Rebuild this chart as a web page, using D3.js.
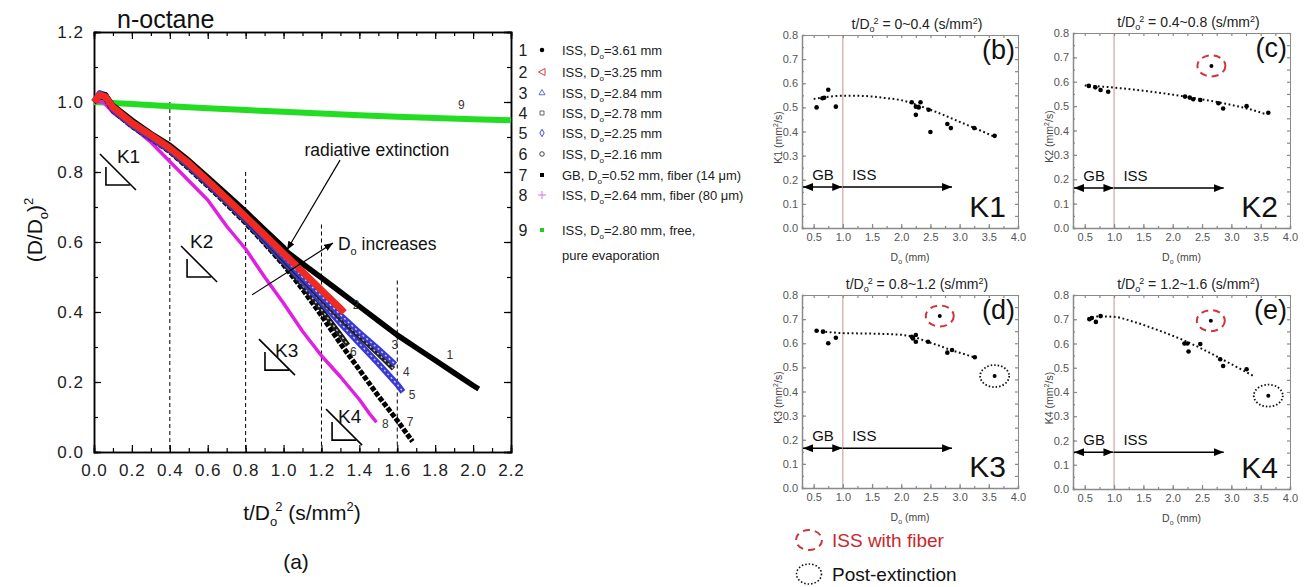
<!DOCTYPE html>
<html>
<head>
<meta charset="utf-8">
<script src="https://cdn.jsdelivr.net/npm/d3@7"></script>
<style>
body { margin: 0; background: #fff; }
svg { font-family: "Liberation Sans", Arial, sans-serif; }
</style>
</head>
<body>
<svg id="fig" width="1307" height="587"></svg>
<script>
// ---------- data: panel (a), (D/Do)^2 against t/Do^2 ----------
var curveNames = ["1", "2", "3", "4", "5", "6", "7", "8", "9"];
var curveFacility = ["ISS", "ISS", "ISS", "ISS", "ISS", "ISS", "GB", "ISS", "ISS"];
var curveDo = ["3.61", "3.25", "2.84", "2.78", "2.25", "2.16", "0.52", "2.64", "2.80"];
var curveExtra = ["", "", "", "", "", "", ", fiber (14 \u03bcm)", ", fiber (80 \u03bcm)", ", free,"];

var iss361 = [[0,1.0],[0.03,1.015],[0.06,1.02],[0.1,0.99],[0.2,0.948],[0.3,0.91],[0.4,0.876],[0.5,0.833],[0.6,0.785],[0.7,0.736],[0.8,0.687],[0.9,0.635],[1.0,0.584],[1.02,0.571],[1.1,0.538],[1.2,0.498],[1.3,0.457],[1.4,0.416],[1.5,0.375],[1.6,0.334],[1.7,0.298],[1.8,0.262],[1.9,0.226],[2.0,0.19],[2.03,0.18]];
var iss325 = [[0,1.0],[0.03,1.02],[0.06,1.015],[0.1,0.985],[0.2,0.94],[0.3,0.905],[0.4,0.868],[0.5,0.825],[0.6,0.775],[0.7,0.724],[0.8,0.672],[0.9,0.62],[1.0,0.567],[1.1,0.515],[1.2,0.462],[1.3,0.41],[1.32,0.398]];
var iss284 = [[0,1.0],[0.03,1.025],[0.06,1.02],[0.1,0.98],[0.2,0.936],[0.3,0.9],[0.4,0.865],[0.5,0.82],[0.6,0.77],[0.7,0.72],[0.8,0.668],[0.9,0.612],[1.0,0.556],[1.1,0.5],[1.2,0.445],[1.3,0.392],[1.4,0.342],[1.5,0.295],[1.59,0.25]];
var iss278 = [[0,1.0],[0.03,1.02],[0.06,1.015],[0.1,0.98],[0.2,0.935],[0.3,0.9],[0.4,0.864],[0.5,0.818],[0.6,0.768],[0.7,0.717],[0.8,0.665],[0.9,0.608],[1.0,0.55],[1.1,0.494],[1.2,0.437],[1.3,0.382],[1.4,0.33],[1.5,0.28],[1.58,0.238]];
var iss225 = [[0,1.0],[0.03,1.025],[0.06,1.02],[0.1,0.978],[0.2,0.933],[0.3,0.898],[0.4,0.862],[0.5,0.816],[0.6,0.766],[0.7,0.715],[0.8,0.662],[0.9,0.604],[1.0,0.546],[1.1,0.488],[1.2,0.428],[1.3,0.368],[1.4,0.31],[1.5,0.253],[1.6,0.193],[1.63,0.172]];
var iss216 = [[0,1.0],[0.03,1.02],[0.06,1.015],[0.1,0.978],[0.2,0.932],[0.3,0.897],[0.4,0.86],[0.5,0.814],[0.6,0.764],[0.7,0.712],[0.8,0.658],[0.9,0.6],[1.0,0.54],[1.1,0.476],[1.2,0.407],[1.3,0.335],[1.34,0.305]];
var gb052 = [[0,1.0],[0.03,1.015],[0.06,1.01],[0.1,0.975],[0.2,0.93],[0.3,0.895],[0.4,0.858],[0.5,0.81],[0.6,0.76],[0.7,0.708],[0.8,0.654],[0.9,0.596],[1.0,0.535],[1.1,0.465],[1.2,0.39],[1.3,0.31],[1.4,0.235],[1.5,0.16],[1.6,0.09],[1.68,0.03]];
var iss264fiber = [[0,1.0],[0.05,1.0],[0.1,0.97],[0.2,0.93],[0.3,0.885],[0.4,0.83],[0.5,0.775],[0.6,0.72],[0.7,0.645],[0.8,0.58],[0.9,0.5],[1.0,0.425],[1.1,0.345],[1.2,0.275],[1.3,0.215],[1.4,0.15],[1.45,0.112],[1.49,0.085]];
var iss280free = [[0,1.0],[0.2,0.994],[0.4,0.988],[0.6,0.982],[0.8,0.977],[1.0,0.972],[1.2,0.967],[1.4,0.962],[1.6,0.958],[1.8,0.954],[2.0,0.951],[2.2,0.948]];

// where the small curve numbers sit
var curveLabelPos = [[1.86,0.265],[1.365,0.41],[1.57,0.295],[1.63,0.218],[1.66,0.152],[1.35,0.275],[1.65,0.075],[1.52,0.07],[1.92,0.98]];

// ---------- data: panels (b)-(e), K against Do ----------
var kDoB = [0.55,0.65,0.68,0.75,0.88,2.18,2.25,2.25,2.33,2.3,2.47,2.5,2.79,2.85,3.25,3.6];
var kValB = [0.50,0.538,0.54,0.573,0.503,0.521,0.503,0.469,0.521,0.50,0.49,0.398,0.431,0.414,0.414,0.382];
var fitDoB = [0.5,0.75,1.0,1.25,1.5,1.75,2.0,2.25,2.5,2.75,3.0,3.25,3.6];
var fitKB = [0.535,0.544,0.548,0.548,0.545,0.538,0.53,0.512,0.49,0.466,0.44,0.415,0.378];

var kDoC = [0.57,0.68,0.77,0.9,2.21,2.29,2.35,2.47,2.78,2.86,3.26,3.63];
var kValC = [0.583,0.577,0.566,0.559,0.539,0.535,0.528,0.525,0.512,0.49,0.50,0.473];
var fiberC = [2.66, 0.665];
var fitDoC = [0.5,1.0,1.5,2.0,2.5,3.0,3.3,3.6];
var fitKC = [0.585,0.576,0.563,0.547,0.528,0.505,0.488,0.466];

var kDoD = [0.55,0.66,0.75,0.88,2.18,2.2,2.25,2.25,2.46,2.79,2.87,3.26];
var kValD = [0.652,0.648,0.60,0.623,0.627,0.62,0.634,0.606,0.606,0.561,0.572,0.542];
var fiberD = [2.66, 0.713];
var postExtD = [3.6, 0.464];
var fitDoD = [0.55,1.0,1.5,2.0,2.2,2.45,2.65,2.85,3.05,3.25];
var fitKD = [0.652,0.642,0.64,0.635,0.627,0.606,0.59,0.572,0.557,0.542];

var kDoE = [0.58,0.62,0.69,0.77,2.2,2.25,2.27,2.47,2.81,2.86,3.26];
var kValE = [0.70,0.705,0.689,0.713,0.60,0.60,0.567,0.598,0.535,0.507,0.494];
var fiberE = [2.65, 0.694];
var postExtE = [3.63, 0.385];
var fitDoE = [0.55,0.75,1.0,1.33,1.75,2.18,2.5,2.81,3.1,3.4];
var fitKE = [0.703,0.712,0.71,0.69,0.655,0.614,0.578,0.539,0.502,0.463];

var panelTitles = ["0~0.4", "0.4~0.8", "0.8~1.2", "1.2~1.6"];

// ---------- figure ----------
var svg = d3.select("#fig");
var defs = svg.append("defs");
defs.append("marker").attr("id", "head").attr("viewBox", "0 0 10 8")
    .attr("refX", 10).attr("refY", 4).attr("markerWidth", 10).attr("markerHeight", 8)
    .attr("markerUnits", "userSpaceOnUse").attr("orient", "auto-start-reverse")
    .append("path").attr("d", "M0,0 L10,4 L0,8 Z").attr("fill", "#000");
defs.append("marker").attr("id", "smallhead").attr("viewBox", "0 0 10 8")
    .attr("refX", 10).attr("refY", 4).attr("markerWidth", 9).attr("markerHeight", 7)
    .attr("markerUnits", "userSpaceOnUse").attr("orient", "auto")
    .append("path").attr("d", "M0,0 L10,4 L0,8 Z").attr("fill", "#000");

// ===== panel (a) =====
var xMain = d3.scaleLinear().domain([0, 2.2]).range([94, 511]);
var yMain = d3.scaleLinear().domain([0, 1.2]).range([452, 32]);

var mainTicks = d3.range(0, 2.21, 0.2);
var mainMinor = d3.range(0, 2.21, 0.1);
var yTicks = d3.range(0, 1.21, 0.2);
var yMinor = d3.range(0, 1.21, 0.1);

function styleAxis(g, col) {
    g.select(".domain").attr("stroke", col).attr("stroke-width", 1.5);
    g.selectAll(".tick line").attr("stroke", col).attr("stroke-width", 1.2);
}

var ax = svg.append("g").attr("transform", "translate(0,452)")
    .call(d3.axisBottom(xMain).tickValues(mainTicks).tickFormat(d3.format(".1f")).tickSize(-7).tickPadding(12));
ax.selectAll("text").attr("font-size", 17).attr("fill", "#222").attr("letter-spacing", 1).attr("font-family", "Liberation Sans");
styleAxis(ax, "#000");
var axm = svg.append("g").attr("transform", "translate(0,452)")
    .call(d3.axisBottom(xMain).tickValues(mainMinor).tickFormat("").tickSize(-4));
styleAxis(axm, "#000");
var axt = svg.append("g").attr("transform", "translate(0,32)")
    .call(d3.axisTop(xMain).tickValues(mainTicks).tickFormat("").tickSize(-7));
styleAxis(axt, "#000");
var axtm = svg.append("g").attr("transform", "translate(0,32)")
    .call(d3.axisTop(xMain).tickValues(mainMinor).tickFormat("").tickSize(-4));
styleAxis(axtm, "#000");

var ay = svg.append("g").attr("transform", "translate(94,0)")
    .call(d3.axisLeft(yMain).tickValues(yTicks).tickFormat(d3.format(".1f")).tickSize(-7).tickPadding(10));
ay.selectAll("text").attr("font-size", 17).attr("fill", "#222").attr("letter-spacing", 1).attr("font-family", "Liberation Sans");
styleAxis(ay, "#000");
var aym = svg.append("g").attr("transform", "translate(94,0)")
    .call(d3.axisLeft(yMain).tickValues(yMinor).tickFormat("").tickSize(-4));
styleAxis(aym, "#000");
var ayr = svg.append("g").attr("transform", "translate(511,0)")
    .call(d3.axisRight(yMain).tickValues(yTicks).tickFormat("").tickSize(-7));
styleAxis(ayr, "#000");
var ayrm = svg.append("g").attr("transform", "translate(511,0)")
    .call(d3.axisRight(yMain).tickValues(yMinor).tickFormat("").tickSize(-4));
styleAxis(ayrm, "#000");

// dashed guide lines at the K1..K4 boundaries
var guideX = [0.4, 0.8, 1.2, 1.6];
var guideTop = [1.0, 0.8, 0.65, 0.49];
guideX.forEach(function (gx, i) {
    svg.append("line")
        .attr("x1", xMain(gx)).attr("x2", xMain(gx))
        .attr("y1", yMain(guideTop[i])).attr("y2", yMain(0))
        .attr("stroke", "#000").attr("stroke-width", 1).attr("stroke-dasharray", "4,3");
});

var line = d3.line().x(function (d) { return xMain(d[0]); }).y(function (d) { return yMain(d[1]); });

// drawing order: red sits over the black/blue bundle, as in the original
var curves = [
    { data: iss280free, color: "#22dd22", width: 6 },
    { data: iss264fiber, color: "#e020e0", width: 3.5 },
    { data: gb052, color: "#000", width: 5, dash: "5,1.6" },
    { data: iss216, color: "#1a1a1a", width: 5, hollow: true },
    { data: iss225, color: "#3a3ad2", width: 6, hollow: true },
    { data: iss278, color: "#222", width: 5, hollow: true },
    { data: iss284, color: "#3a3ad2", width: 5.5, hollow: true },
    { data: iss361, color: "#000", width: 5.5 },
    { data: iss325, color: "#ee2a22", width: 7 }
];
curves.forEach(function (c) {
    svg.append("path").datum(c.data).attr("d", line)
        .attr("fill", "none").attr("stroke", c.color).attr("stroke-width", c.width)
        .attr("stroke-linejoin", "round").attr("stroke-dasharray", c.dash || null);
    if (c.hollow) {
        svg.append("path").datum(c.data).attr("d", line)
            .attr("fill", "none").attr("stroke", "#fff").attr("stroke-width", 1.4)
            .attr("stroke-dasharray", "2,3").attr("opacity", 0.75);
    }
});

// small numbers at the ends of the curves
curveLabelPos.forEach(function (p, i) {
    svg.append("text").attr("x", xMain(p[0])).attr("y", yMain(p[1]))
        .attr("font-size", 12).attr("fill", "#333").text(curveNames[i]);
});

// annotations
svg.append("text").attr("x", 117).attr("y", 28)
    .attr("font-size", 25).attr("fill", "#111").text("n-octane");

svg.append("text").attr("x", xMain(1.11)).attr("y", yMain(0.845))
    .attr("font-size", 17.5).attr("fill", "#111").text("radiative extinction");
svg.append("line")
    .attr("x1", xMain(1.298)).attr("y1", yMain(0.834))
    .attr("x2", xMain(1.018)).attr("y2", yMain(0.577))
    .attr("stroke", "#000").attr("stroke-width", 1.2).attr("marker-end", "url(#smallhead)");

var incr = svg.append("text").attr("x", xMain(1.287)).attr("y", yMain(0.577))
    .attr("font-size", 17.5).attr("fill", "#111");
incr.append("tspan").text("D");
incr.append("tspan").attr("font-size", 11).attr("dy", 5).text("o");
incr.append("tspan").attr("dy", -5).text(" increases");
svg.append("line")
    .attr("x1", xMain(0.834)).attr("y1", yMain(0.449))
    .attr("x2", xMain(1.261)).attr("y2", yMain(0.597))
    .attr("stroke", "#000").attr("stroke-width", 1.2).attr("marker-end", "url(#smallhead)");

// slope triangles K1..K4 (corner in data units, legs in pixels)
var slopeNames = ["K1", "K2", "K3", "K4"];
var slopeCorner = [[0.063, 0.763], [0.491, 0.50], [0.902, 0.234], [1.256, 0.034]];
slopeCorner.forEach(function (c, i) {
    var cx = xMain(c[0]), cy = yMain(c[1]);
    var g = svg.append("g").attr("stroke", "#000").attr("stroke-width", 1.6).attr("fill", "none");
    g.append("path").attr("d", "M" + (cx - 6) + "," + (cy - 31) + "L" + (cx + 30) + "," + (cy + 5));
    g.append("path").attr("d", "M" + cx + "," + (cy - 18) + "L" + cx + "," + cy + "L" + (cx + 24) + "," + cy);
    svg.append("text").attr("x", cx + (i === 0 ? 11 : i === 1 ? 3 : i === 2 ? 10 : 6))
        .attr("y", cy - (i === 0 ? 22 : i === 1 ? 29 : i === 2 ? 13 : 17))
        .attr("font-size", 19).attr("fill", "#111").text(slopeNames[i]);
});

// axis titles for (a)
var xt = svg.append("text").attr("x", 302).attr("y", 520).attr("text-anchor", "middle")
    .attr("font-size", 21).attr("fill", "#111");
xt.append("tspan").text("t/D");
xt.append("tspan").attr("font-size", 13).attr("dy", 6).text("o");
xt.append("tspan").attr("font-size", 13).attr("dy", -15).attr("dx", -2).text("2");
xt.append("tspan").attr("dy", 9).text(" (s/mm");
xt.append("tspan").attr("font-size", 13).attr("dy", -9).text("2");
xt.append("tspan").attr("dy", 9).text(")");

var yt = svg.append("text").attr("transform", "translate(42,230) rotate(-90)")
    .attr("text-anchor", "middle").attr("font-size", 21).attr("fill", "#111");
yt.append("tspan").text("(D/D");
yt.append("tspan").attr("font-size", 13).attr("dy", 6).text("o");
yt.append("tspan").attr("dy", -6).text(")");
yt.append("tspan").attr("font-size", 13).attr("dy", -9).text("2");

svg.append("text").attr("x", 296).attr("y", 569).attr("text-anchor", "middle")
    .attr("font-size", 21).attr("fill", "#111").text("(a)");

// legend for (a)
var legendY = [50, 72, 93, 113, 133, 154, 175, 195, 230];
var legendColor = ["#000", "#d04040", "#6a6ad0", "#666", "#4a4ad0", "#444", "#000", "#e070e0", "#22cc22"];
var legendFill = [true, false, false, false, false, false, true, false, true];
var legendShape = [d3.symbolCircle, null, d3.symbolTriangle, d3.symbolSquare, d3.symbolDiamond, d3.symbolCircle, d3.symbolSquare, d3.symbolPlus, d3.symbolSquare];
legendY.forEach(function (ly, i) {
    svg.append("text").attr("x", 523).attr("y", ly + 6).attr("text-anchor", "middle")
        .attr("font-size", 16).attr("fill", "#222").text(curveNames[i]);
    var sym;
    if (legendShape[i] === null) {
        sym = svg.append("path").attr("d", "M-3.5,0 L3,-3.5 L3,3.5 Z");
    } else if (i === 7) {
        sym = svg.append("path").attr("d", "M-4,0 L4,0 M0,-4 L0,4");
    } else {
        sym = svg.append("path").attr("d", d3.symbol().type(legendShape[i]).size(16)());
    }
    sym.attr("transform", "translate(542," + ly + ")")
        .attr("fill", legendFill[i] ? legendColor[i] : "none")
        .attr("stroke", legendFill[i] ? "none" : legendColor[i]).attr("stroke-width", 1);
    var t = svg.append("text").attr("x", 562).attr("y", ly + 5).attr("font-size", 13).attr("fill", "#222");
    t.append("tspan").text(curveFacility[i] + ", D");
    t.append("tspan").attr("font-size", 8).attr("dy", 4).text("o");
    t.append("tspan").attr("dy", -4).text("=" + curveDo[i] + " mm" + curveExtra[i]);
});
svg.append("text").attr("x", 562).attr("y", 260).attr("font-size", 13).attr("fill", "#222").text("pure evaporation");

// ===== panels (b)-(e) =====
var panels = [
    { left: 802, right: 1018, top: 35, bottom: 228, tag: "(b)", k: "K1", arrowK: 0.17,
      xs: kDoB, ys: kValB, fx: fitDoB, fy: fitKB },
    { left: 1073, right: 1290, top: 33, bottom: 228, tag: "(c)", k: "K2", arrowK: 0.164,
      xs: kDoC, ys: kValC, fx: fitDoC, fy: fitKC, fiber: fiberC },
    { left: 802, right: 1018, top: 295, bottom: 488, tag: "(d)", k: "K3", arrowK: 0.165,
      xs: kDoD, ys: kValD, fx: fitDoD, fy: fitKD, fiber: fiberD, post: postExtD },
    { left: 1073, right: 1290, top: 295, bottom: 489, tag: "(e)", k: "K4", arrowK: 0.152,
      xs: kDoE, ys: kValE, fx: fitDoE, fy: fitKE, fiber: fiberE, post: postExtE }
];

panels.forEach(function (p, pi) {
    var x = d3.scaleLinear().domain([0.3, 4.0]).range([p.left, p.right]);
    var y = d3.scaleLinear().domain([0, 0.8]).range([p.bottom, p.top]);
    var g = svg.append("g");
    var gray = "#8a8a8a";

    g.append("line").attr("x1", x(1)).attr("x2", x(1)).attr("y1", y(0)).attr("y2", y(0.8))
        .attr("stroke", "#c99090").attr("stroke-width", 1);

    var xt = d3.range(0.5, 4.01, 0.5), xm = d3.range(0.5, 4.01, 0.25);
    var yt = d3.range(0, 0.81, 0.1), ym = d3.range(0, 0.81, 0.05);

    var b = g.append("g").attr("transform", "translate(0," + p.bottom + ")")
        .call(d3.axisBottom(x).tickValues(xt).tickFormat(d3.format(".1f")).tickSize(-4).tickPadding(5));
    b.selectAll("text").attr("font-size", 11).attr("fill", "#555").attr("font-family", "Liberation Sans");
    styleAxis(b, gray);
    b.select(".domain").attr("stroke-width", 1);
    var bm = g.append("g").attr("transform", "translate(0," + p.bottom + ")")
        .call(d3.axisBottom(x).tickValues(xm).tickFormat("").tickSize(-2));
    styleAxis(bm, gray);
    var tp = g.append("g").attr("transform", "translate(0," + p.top + ")")
        .call(d3.axisTop(x).tickValues(xm).tickFormat("").tickSize(-3));
    styleAxis(tp, gray);
    tp.select(".domain").attr("stroke-width", 1);

    var l = g.append("g").attr("transform", "translate(" + p.left + ",0)")
        .call(d3.axisLeft(y).tickValues(yt).tickFormat(d3.format(".1f")).tickSize(-4).tickPadding(4));
    l.selectAll("text").attr("font-size", 11).attr("fill", "#555").attr("font-family", "Liberation Sans");
    styleAxis(l, gray);
    l.select(".domain").attr("stroke-width", 1);
    var lm = g.append("g").attr("transform", "translate(" + p.left + ",0)")
        .call(d3.axisLeft(y).tickValues(ym).tickFormat("").tickSize(-2));
    styleAxis(lm, gray);
    var r = g.append("g").attr("transform", "translate(" + p.right + ",0)")
        .call(d3.axisRight(y).tickValues(ym).tickFormat("").tickSize(-3));
    styleAxis(r, gray);
    r.select(".domain").attr("stroke-width", 1);

    // title
    var tt = g.append("text").attr("x", (p.left + p.right) / 2 + 7).attr("y", p.top - 6)
        .attr("text-anchor", "middle").attr("font-size", 14).attr("fill", "#222");
    tt.append("tspan").text("t/D");
    tt.append("tspan").attr("font-size", 9).attr("dy", 3).text("o");
    tt.append("tspan").attr("font-size", 9).attr("dy", -8).attr("dx", -1).text("2");
    tt.append("tspan").attr("dy", 5).text(" = " + panelTitles[pi] + " (s/mm");
    tt.append("tspan").attr("font-size", 9).attr("dy", -5).text("2");
    tt.append("tspan").attr("dy", 5).text(")");

    // axis titles
    var xl = g.append("text").attr("x", (p.left + p.right) / 2).attr("y", p.bottom + 33)
        .attr("text-anchor", "middle").attr("font-size", 10.5).attr("fill", "#444");
    xl.append("tspan").text("D");
    xl.append("tspan").attr("font-size", 7).attr("dy", 3).text("o");
    xl.append("tspan").attr("dy", -3).text(" (mm)");
    var yl = g.append("text")
        .attr("transform", "translate(" + (p.left - 20) + "," + ((p.top + p.bottom) / 2 + 6) + ") rotate(-90)")
        .attr("text-anchor", "middle").attr("font-size", 10.5).attr("fill", "#444");
    yl.append("tspan").text(p.k + " (mm");
    yl.append("tspan").attr("font-size", 7).attr("dy", -4).text("2");
    yl.append("tspan").attr("dy", 4).text("/s)");

    // GB / ISS arrows
    g.append("line").attr("x1", x(0.3) + 1).attr("x2", x(0.99)).attr("y1", y(p.arrowK)).attr("y2", y(p.arrowK))
        .attr("stroke", "#000").attr("stroke-width", 1.5)
        .attr("marker-start", "url(#head)").attr("marker-end", "url(#head)");
    g.append("line").attr("x1", x(1.0)).attr("x2", x(2.87)).attr("y1", y(p.arrowK)).attr("y2", y(p.arrowK))
        .attr("stroke", "#000").attr("stroke-width", 1.5).attr("marker-end", "url(#head)");
    g.append("text").attr("x", x(0.66)).attr("y", y(p.arrowK + 0.03)).attr("text-anchor", "middle")
        .attr("font-size", 15).attr("fill", "#111").text("GB");
    g.append("text").attr("x", x(1.16)).attr("y", y(p.arrowK + 0.03))
        .attr("font-size", 15).attr("fill", "#111").text("ISS");

    // fit curve
    var fit = p.fx.map(function (d, i) { return [d, p.fy[i]]; });
    g.append("path").datum(fit)
        .attr("d", d3.line().curve(d3.curveMonotoneX).x(function (d) { return x(d[0]); }).y(function (d) { return y(d[1]); }))
        .attr("fill", "none").attr("stroke", "#111").attr("stroke-width", 2).attr("stroke-dasharray", "1.8,2.6");

    // measured points
    p.xs.forEach(function (d, i) {
        g.append("circle").attr("cx", x(d)).attr("cy", y(p.ys[i])).attr("r", 2.3).attr("fill", "#000");
    });
    if (p.fiber) {
        g.append("circle").attr("cx", x(p.fiber[0])).attr("cy", y(p.fiber[1])).attr("r", 2).attr("fill", "#000");
        g.append("ellipse").attr("cx", x(p.fiber[0])).attr("cy", y(p.fiber[1])).attr("rx", 14).attr("ry", 10.5)
            .attr("fill", "none").attr("stroke", "#d0333a").attr("stroke-width", 2).attr("stroke-dasharray", "7,5");
    }
    if (p.post) {
        g.append("circle").attr("cx", x(p.post[0])).attr("cy", y(p.post[1])).attr("r", 2).attr("fill", "#000");
        g.append("ellipse").attr("cx", x(p.post[0])).attr("cy", y(p.post[1])).attr("rx", 14.5).attr("ry", 11)
            .attr("fill", "none").attr("stroke", "#111").attr("stroke-width", 1.8).attr("stroke-dasharray", "1.5,2");
    }

    // panel tag and K name
    g.append("text").attr("x", p.right - 3).attr("y", p.top + 24).attr("text-anchor", "end")
        .attr("font-size", 27).attr("fill", "#111").text(p.tag);
    g.append("text").attr("x", p.right - 12).attr("y", p.bottom - 11).attr("text-anchor", "end")
        .attr("font-size", 30).attr("fill", "#111").text(p.k);
});

// legend for the marked points
svg.append("ellipse").attr("cx", 809).attr("cy", 540).attr("rx", 13).attr("ry", 10)
    .attr("fill", "none").attr("stroke", "#d0333a").attr("stroke-width", 2).attr("stroke-dasharray", "7,5");
svg.append("text").attr("x", 832).attr("y", 547).attr("font-size", 19).attr("fill", "#c8282d").text("ISS with fiber");
svg.append("ellipse").attr("cx", 809).attr("cy", 574).attr("rx", 12.5).attr("ry", 10)
    .attr("fill", "none").attr("stroke", "#111").attr("stroke-width", 1.6).attr("stroke-dasharray", "1.5,2");
svg.append("text").attr("x", 832).attr("y", 581).attr("font-size", 19).attr("fill", "#111").text("Post-extinction");
</script>
</body>
</html>
